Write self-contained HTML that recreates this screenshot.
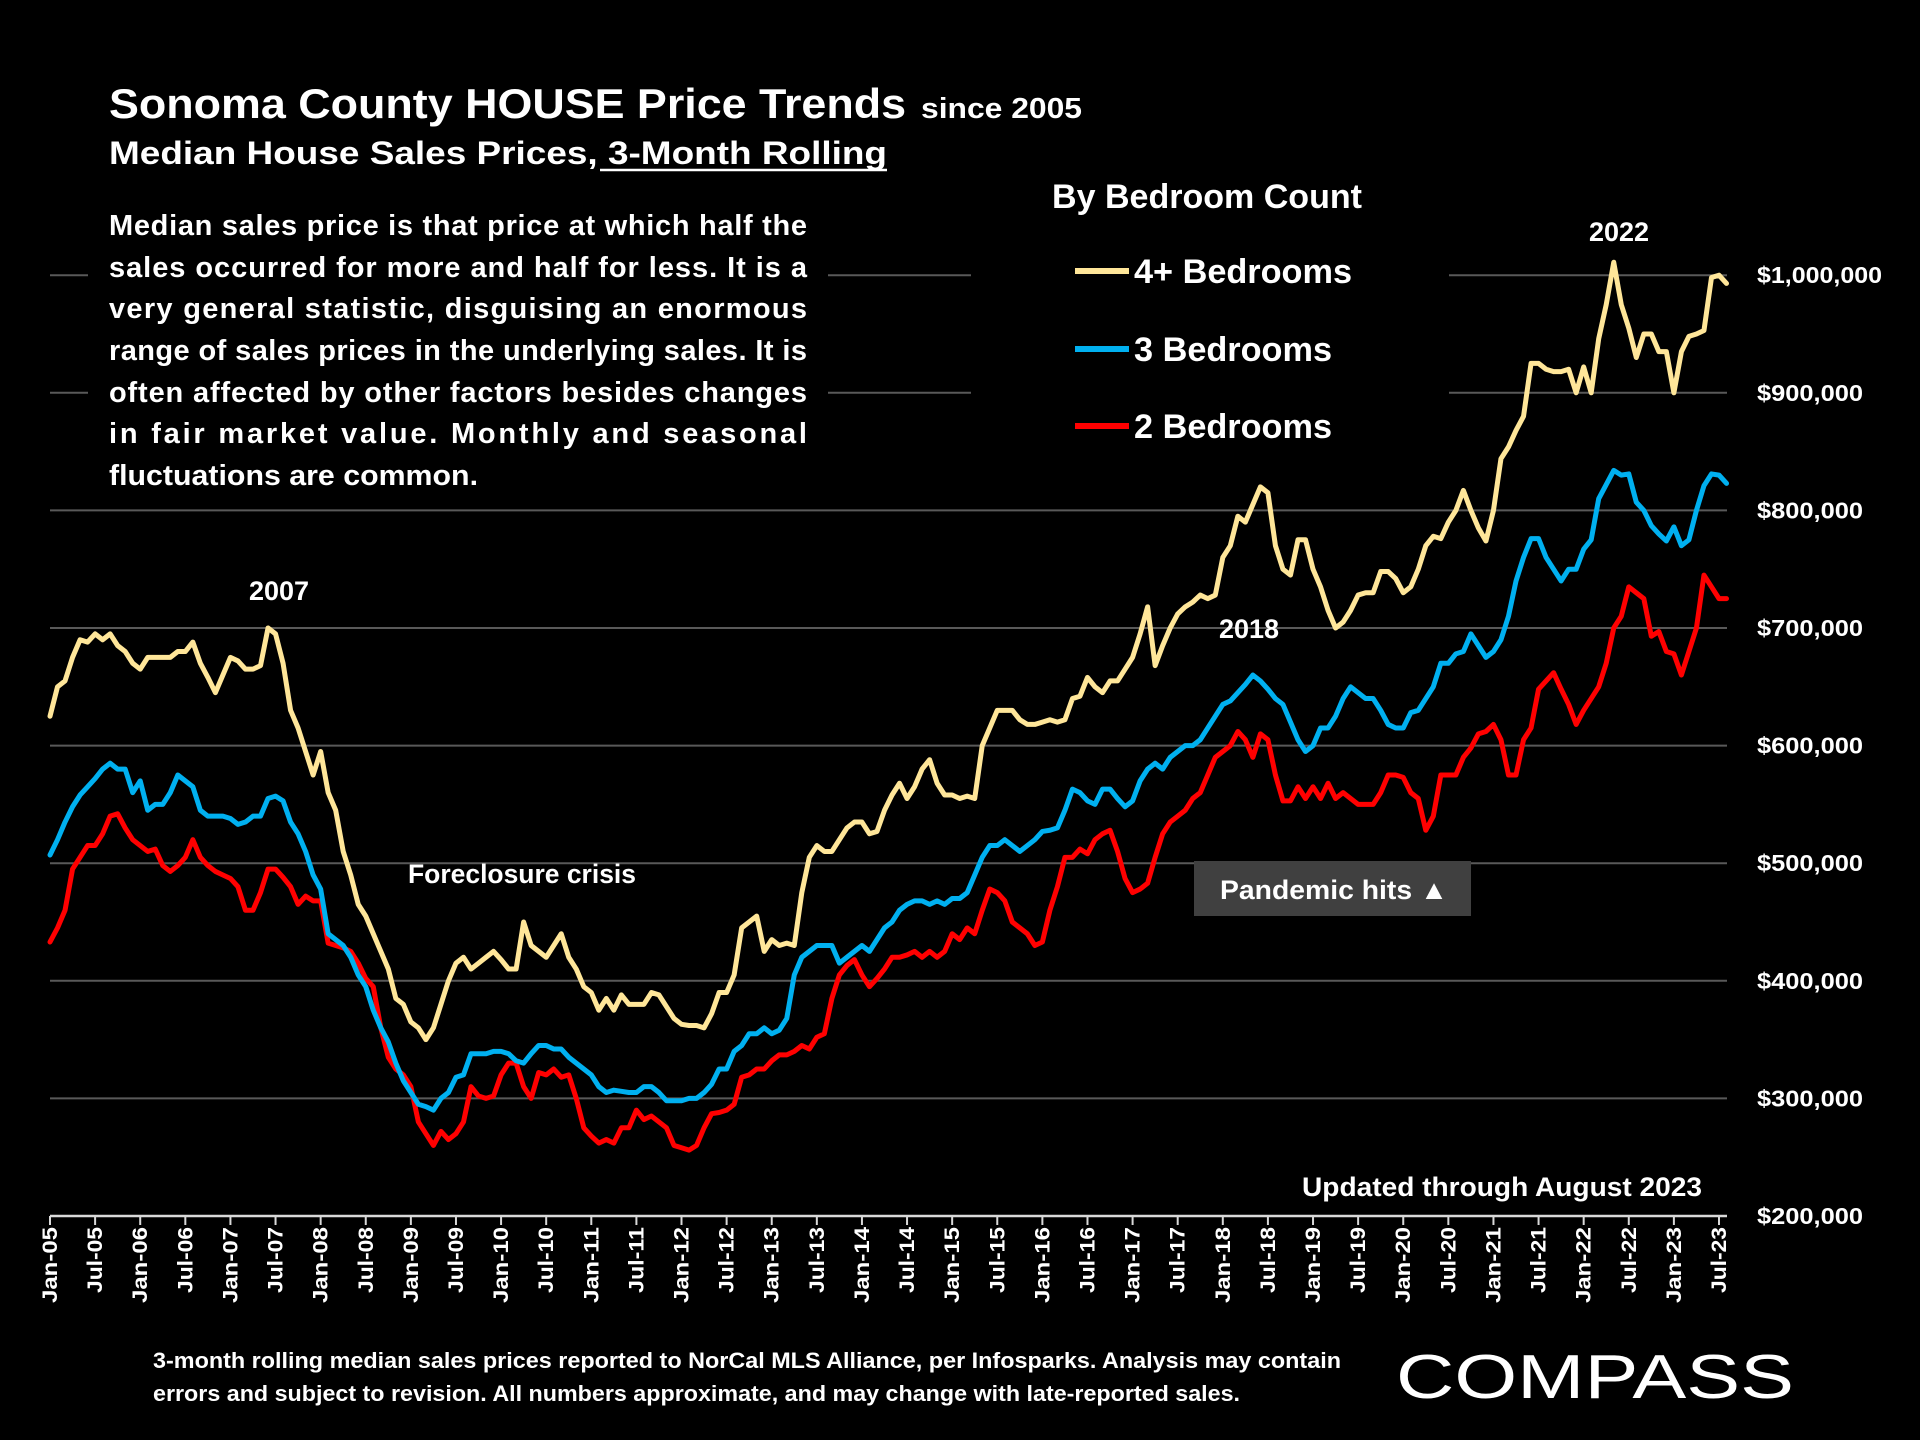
<!DOCTYPE html>
<html><head><meta charset="utf-8"><style>
html,body{margin:0;padding:0;background:#000;}
svg{display:block;font-family:"Liberation Sans",sans-serif;}
</style></head><body>
<svg id="chart" width="1920" height="1440" viewBox="0 0 1920 1440">
<rect x="0" y="0" width="1920" height="1440" fill="#000"/>
<g id="grid"></g>
<rect x="88" y="196" width="740" height="296" fill="#000"/>
<rect x="971" y="160" width="478" height="305" fill="#000"/>
<g id="axes"></g>
<g id="series"></g>

<text x="109" y="118" fill="#fff" font-weight="bold" font-size="42" textLength="797" lengthAdjust="spacingAndGlyphs">Sonoma County HOUSE Price Trends</text>
<text x="921" y="118" fill="#fff" font-weight="bold" font-size="29" textLength="161" lengthAdjust="spacingAndGlyphs">since 2005</text>
<text x="109" y="164" fill="#fff" font-weight="bold" font-size="32" textLength="778" lengthAdjust="spacingAndGlyphs">Median House Sales Prices, 3-Month Rolling</text>
<line x1="600" y1="170" x2="887" y2="170" stroke="#fff" stroke-width="2.5"/>

<g fill="#fff" font-weight="bold" font-size="29">
<text x="109" y="235" textLength="698" lengthAdjust="spacing">Median sales price is that price at which half the</text>
<text x="109" y="277" textLength="698" lengthAdjust="spacing">sales occurred for more and half for less. It is a</text>
<text x="109" y="318" textLength="698" lengthAdjust="spacing">very general statistic, disguising an enormous</text>
<text x="109" y="360" textLength="698" lengthAdjust="spacing">range of sales prices in the underlying sales. It is</text>
<text x="109" y="402" textLength="698" lengthAdjust="spacing">often affected by other factors besides changes</text>
<text x="109" y="443" textLength="698" lengthAdjust="spacing">in fair market value. Monthly and seasonal</text>
<text x="109" y="485" textLength="369" lengthAdjust="spacingAndGlyphs">fluctuations are common.</text>
</g>

<text x="1052" y="208" fill="#fff" font-weight="bold" font-size="34" textLength="310" lengthAdjust="spacingAndGlyphs">By Bedroom Count</text>
<g>
<line x1="1075" y1="271" x2="1129" y2="271" stroke="#FFE699" stroke-width="6"/>
<text x="1134" y="283" fill="#fff" font-weight="bold" font-size="34" textLength="218" lengthAdjust="spacingAndGlyphs">4+ Bedrooms</text></g>
<g>
<line x1="1075" y1="349" x2="1129" y2="349" stroke="#00B0F0" stroke-width="6"/>
<text x="1134" y="361" fill="#fff" font-weight="bold" font-size="34" textLength="198" lengthAdjust="spacingAndGlyphs">3 Bedrooms</text></g>
<g>
<line x1="1075" y1="426" x2="1129" y2="426" stroke="#FF0000" stroke-width="6"/>
<text x="1134" y="438" fill="#fff" font-weight="bold" font-size="34" textLength="198" lengthAdjust="spacingAndGlyphs">2 Bedrooms</text></g>

<g fill="#fff" font-weight="bold" font-size="27" text-anchor="middle">
<text x="279" y="600">2007</text>
<text x="1249" y="638">2018</text>
<text x="1619" y="241">2022</text>
</g>
<text x="408" y="883" fill="#fff" font-weight="bold" font-size="27" textLength="228" lengthAdjust="spacingAndGlyphs">Foreclosure crisis</text>
<rect x="1194" y="861" width="277" height="55" fill="#404040"/>
<text x="1220" y="899" fill="#fff" font-weight="bold" font-size="27" textLength="228" lengthAdjust="spacingAndGlyphs">Pandemic hits  ▲</text>
<text x="1702" y="1196" fill="#fff" font-weight="bold" font-size="27" text-anchor="end" textLength="400" lengthAdjust="spacingAndGlyphs">Updated through August 2023</text>

<g fill="#fff" font-weight="bold" font-size="22">
<text x="153" y="1368" textLength="1188" lengthAdjust="spacingAndGlyphs">3-month rolling median sales prices reported to NorCal MLS Alliance, per Infosparks.  Analysis may contain</text>
<text x="153" y="1401" textLength="1087" lengthAdjust="spacingAndGlyphs">errors and subject to revision. All numbers approximate, and may change with late-reported sales.</text>
</g>
<text x="1396" y="1398" fill="#fff" font-size="62" textLength="398" lengthAdjust="spacingAndGlyphs">COMPASS</text>
</svg>
<script>
const yTicks = [200000,300000,400000,500000,600000,700000,800000,900000,1000000];
const yTickLabels = ["$200,000","$300,000","$400,000","$500,000","$600,000","$700,000","$800,000","$900,000","$1,000,000"];
const startYear = 2005;
const beds4 = [
625,650,655,675,690,688,695,690,695,685,680,670,
665,675,675,675,675,680,680,688,670,658,645,660,
675,672,665,665,668,700,695,670,630,615,595,575,
595,560,545,510,490,465,455,440,425,410,385,380,
365,360,350,360,380,400,415,420,410,415,420,425,
418,410,410,450,430,425,420,430,440,420,410,395,
390,375,385,375,388,380,380,380,390,388,378,368,
363,362,362,360,372,390,390,405,445,450,455,425,
435,430,432,430,475,505,515,510,510,520,530,535,
535,525,527,545,558,568,555,565,580,588,568,558,
558,555,557,555,600,615,630,630,630,622,618,618,
620,622,620,622,640,642,658,650,645,655,655,665,
675,695,718,668,685,700,712,718,722,728,725,728,
760,770,795,790,805,820,815,770,750,745,775,775,
750,735,715,700,705,715,728,730,730,748,748,742,
730,735,750,770,778,776,790,800,817,800,785,774,
800,844,854,868,880,925,925,920,918,918,920,900,
922,900,946,975,1011,975,955,930,950,950,935,935,
900,935,948,950,953,998,1000,993];
const beds3 = [
507,520,535,548,558,565,572,580,585,580,580,560,
570,545,550,550,560,575,570,565,545,540,540,540,
538,533,535,540,540,555,557,553,535,525,510,490,
478,440,435,430,420,405,395,375,360,348,330,315,
305,295,293,290,300,305,318,320,338,338,338,340,
340,338,332,330,338,345,345,342,342,335,330,325,
320,310,305,307,306,305,305,310,310,305,298,298,
298,300,300,305,312,325,325,340,345,355,355,360,
355,358,368,405,420,425,430,430,430,415,420,425,
430,425,435,445,450,460,465,468,468,465,468,465,
470,470,475,490,505,515,515,520,515,510,515,520,
527,528,530,545,563,560,553,550,563,563,555,548,
553,570,580,585,580,590,595,600,600,605,615,625,
635,638,645,652,660,655,648,640,635,620,605,595,
600,615,615,625,640,650,645,640,640,630,618,615,
615,628,630,640,650,670,670,678,680,695,685,675,
680,690,710,740,760,776,776,760,750,740,750,750,
767,775,810,822,834,830,831,807,800,787,780,774,
786,770,775,800,821,831,830,823];
const beds2 = [
433,445,460,495,505,515,515,525,540,542,530,520,
515,510,512,498,493,498,505,520,505,498,493,490,
487,480,460,460,475,495,495,488,480,465,472,468,
468,432,430,428,425,415,402,395,360,335,325,320,
310,280,270,260,272,265,270,280,310,302,300,302,
320,330,330,310,300,322,320,325,318,320,300,275,
268,262,265,262,275,275,290,282,285,280,275,260,
258,256,260,275,287,288,290,295,318,320,325,325,
332,337,337,340,345,342,352,355,385,405,413,418,
405,395,402,410,420,420,422,425,420,425,420,425,
440,435,445,440,460,478,475,468,450,445,440,430,
433,460,480,505,505,512,508,520,525,528,510,487,
475,478,483,505,525,535,540,545,555,560,575,590,
595,600,612,605,590,610,605,575,553,553,565,555,
565,555,568,555,560,555,550,550,550,560,575,575,
573,560,555,528,540,575,575,575,590,598,610,612,
618,605,575,575,605,615,648,655,662,648,635,618,
630,640,650,670,700,710,735,730,725,693,697,680,
678,660,680,700,745,735,725,725];

const NS = "http://www.w3.org/2000/svg";
const X0 = 50, XM = 7.518, YB = 1216, YPX = 117.6/100000;
function xScale(m){ return X0 + m*XM; }
function yScale(v){ return YB - (v-200000)*YPX; }
function mk(tag, attrs, parent){ const e=document.createElementNS(NS,tag); for(const k in attrs) e.setAttribute(k, attrs[k]); parent.appendChild(e); return e; }

const grid = document.getElementById('grid');
const axes = document.getElementById('axes');
yTicks.forEach((t,i)=>{
  const y = yScale(t);
  if (i>0) {
    const gl = mk('line',{x1:X0,x2:1727,y1:y,y2:y,stroke:'#595959','stroke-width':2},grid);
    
    
  }
  const lb = mk('text',{x:1757,y:y+8,fill:'#fff','font-weight':'bold','font-size':23,textLength:(yTickLabels[i].length>8?125:106),lengthAdjust:'spacingAndGlyphs'},axes);
  lb.textContent = yTickLabels[i];
  
  
});
const ax = mk('line',{x1:X0,x2:1727,y1:YB,y2:YB,stroke:'#d9d9d9','stroke-width':2.5},axes);


const mNames=["Jan","Jul"];
for(let m=0;m<=222;m+=6){
  const x = xScale(m);
  const tk = mk('line',{x1:x,x2:x,y1:YB,y2:YB+9,stroke:'#d9d9d9','stroke-width':2},axes);
  
  
  const yr = String((startYear + Math.floor(m/12))%100).padStart(2,'0');
  const label = mNames[(m%12)/6] + "-" + yr;
  const tx = mk('text',{x:0,y:0,fill:'#fff','font-weight':'bold','font-size':21,'text-anchor':'end',textLength:(label[0]==='J'&&label[1]==='a'?76:66),lengthAdjust:'spacingAndGlyphs',transform:`translate(${x+7},${YB+11}) rotate(-90)`},axes);
  tx.textContent = label;
  
  
}
const seriesG = document.getElementById('series');
function drawSeries(vals,color,name){
  const d = vals.map((v,i)=>(i?'L':'M')+xScale(i).toFixed(2)+','+yScale(v*1000).toFixed(2)).join(' ');
  const p = mk('path',{d:d,fill:'none',stroke:color,'stroke-width':5,'stroke-linejoin':'round','stroke-linecap':'round'},seriesG);
  
  
}
drawSeries(beds2,'#FF0000','line-2-bedrooms');
drawSeries(beds3,'#00B0F0','line-3-bedrooms');
drawSeries(beds4,'#FFE699','line-4plus-bedrooms');
</script>
</body></html>
